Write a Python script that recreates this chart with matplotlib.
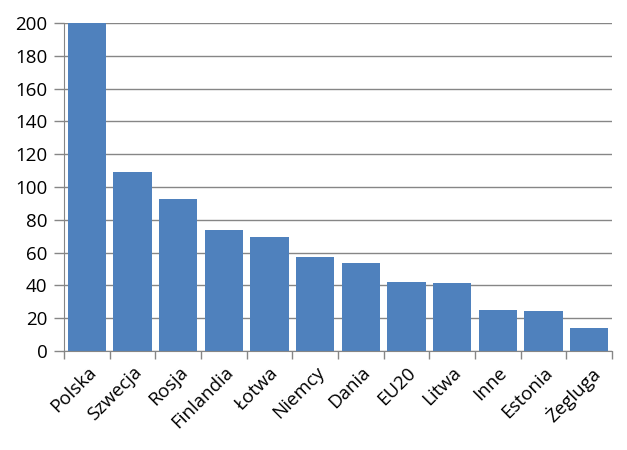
import matplotlib.pyplot as plt
import numpy as np

plt.rcParams['font.family'] = ['Open Sans', 'DejaVu Sans']

# --- data ---
countries = ["Polska", "Szwecja", "Rosja", "Finlandia", "Łotwa", "Niemcy",
             "Dania", "EU20", "Litwa", "Inne", "Estonia", "Żegluga"]
values = [205, 109.3, 92.8, 73.9, 69.6, 57.4, 53.7, 42.1, 41.5, 25.0, 24.4, 14.0]
y_ticks = [0, 20, 40, 60, 80, 100, 120, 140, 160, 180, 200]

bar_color = "#4F81BD"
grid_color = "#868686"

fig = plt.figure(figsize=(6.27, 4.5), dpi=100)
ax = fig.add_axes([64 / 627, 1 - 351 / 450, (612 - 64) / 627, (351 - 23) / 450])

x = np.arange(len(countries))
ax.bar(x, values, width=0.84, color=bar_color, zorder=3)

ax.set_xlim(-0.5, len(countries) - 0.5)
ax.set_ylim(0, 200)
ax.set_yticks(y_ticks)
ax.set_yticklabels([str(v) for v in y_ticks], fontsize=13.5)
ax.yaxis.grid(True, color=grid_color, linewidth=1, zorder=0)

# category labels at bar centers, tick marks at boundaries
ax.set_xticks(x)
ax.set_xticklabels(countries, rotation=45, ha="right", rotation_mode="anchor", fontsize=13.5)
ax.tick_params(axis="x", length=0, pad=9)
ax.set_xticks(np.arange(-0.5, len(countries)), minor=True)
ax.tick_params(axis="x", which="minor", length=6, color=grid_color, width=1)
ax.tick_params(axis="y", length=7, color=grid_color, width=1, pad=5)

for side in ["top", "right"]:
    ax.spines[side].set_visible(False)
ax.spines["left"].set_color(grid_color)
ax.spines["bottom"].set_color(grid_color)
ax.spines["left"].set_zorder(4)
ax.spines["bottom"].set_zorder(4)

fig.savefig("out.png", dpi=100)
